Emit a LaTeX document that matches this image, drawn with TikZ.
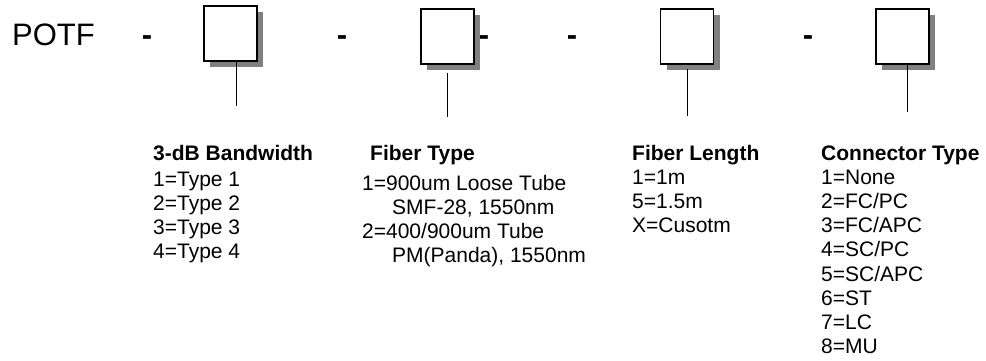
\documentclass[tikz,border=0pt]{standalone}
\usepackage{fontspec}
\setmainfont{Liberation Sans}
\usetikzlibrary{shadows}

\tikzset{
  codebox/.style={draw, line width=1.6pt, fill=white, minimum width=53pt, minimum height=55pt, inner sep=0pt,
    drop shadow={shadow xshift=6pt, shadow yshift=-6pt, fill=black!50, opacity=1}},
  lead/.style={line width=1pt},
  title/.style={font=\fontsize{21}{24}\selectfont\bfseries, anchor=base west, inner sep=0pt},
  item/.style={font=\fontsize{21}{24}\selectfont, anchor=base west, inner sep=0pt},
  sep/.style={font=\fontsize{31}{36}\selectfont\bfseries, anchor=base, inner sep=0pt}
}

\begin{document}
\begin{tikzpicture}[x=1pt, y=-1pt]
  \def\lh{24.2}
  \useasboundingbox (0,0) rectangle (986,361);

  % Part number
  \node[font=\fontsize{31}{36}\selectfont, anchor=base west, inner sep=0pt] (potf) at (12,46) {POTF};
  \foreach \x [count=\i] in {147,342,484,572,808} { \node[sep] (dash\i) at (\x,46) {-}; }

  % Code boxes
  \node[codebox] (bw-box) at (230.5,33.5) {};
  \node[codebox] (fiber-box) at (447.5,36.5) {};
  \node[codebox] (len-box) at (687,36.5) {};
  \node[codebox] (conn-box) at (902.5,36.5) {};

  % Leads
  \coordinate (bw-end) at (236,106);
  \coordinate (fiber-end) at (447,117);
  \coordinate (len-end) at (687,116);
  \coordinate (conn-end) at (907,112);
  \draw[lead] (bw-box.south -| bw-end) -- (bw-end);
  \draw[lead, shorten <=8pt] (fiber-box.south -| fiber-end) -- (fiber-end);
  \draw[lead, shorten <=4pt] (len-box.south -| len-end) -- (len-end);
  \draw[lead] (conn-box.south -| conn-end) -- (conn-end);

  % 3-dB bandwidth
  \node[title] (bw-title) at (153,160) {3-dB Bandwidth};
  \foreach \t [count=\i] in {1,2,3,4} { \node[item] (bw-\i) at (153,{162+\lh*\i}) {\t=Type \t}; }

  % Fiber type
  \node[title] (fiber-title) at (370,160) {Fiber Type};
  \foreach \dx/\t [count=\i] in {0/{1=900um Loose Tube}, 30/{SMF-28, 1550nm}, 0/{2=400/900um Tube}, 30/{PM(Panda), 1550nm}}
    { \node[item] (fiber-\i) at ({362+\dx},{166+\lh*\i}) {\t}; }

  % Fiber length
  \node[title] (len-title) at (632,160) {Fiber Length};
  \foreach \t [count=\i] in {1=1m, 5=1.5m, X=Cusotm} { \node[item] (len-\i) at (632,{160+\lh*\i}) {\t}; }

  % Connector type
  \node[title] (conn-title) at (821,160) {Connector Type};
  \foreach \t [count=\i] in {1=None, {2=FC/PC}, {3=FC/APC}, {4=SC/PC}, {5=SC/APC}, 6=ST, 7=LC, 8=MU}
    { \node[item] (conn-\i) at (821,{160+\lh*\i}) {\t}; }
\end{tikzpicture}
\end{document}
